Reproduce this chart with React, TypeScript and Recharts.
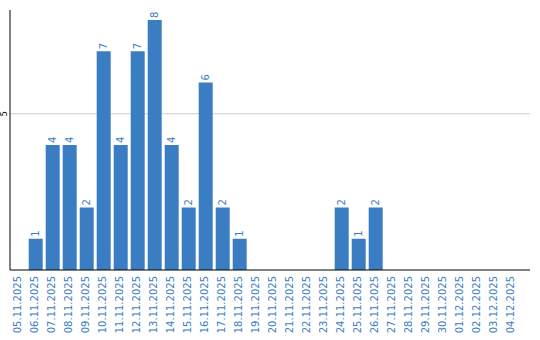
import { BarChart, Bar, XAxis, YAxis, CartesianGrid, LabelList } from 'recharts'

const dates = [
  '05.11.2025', '06.11.2025', '07.11.2025', '08.11.2025', '09.11.2025', '10.11.2025',
  '11.11.2025', '12.11.2025', '13.11.2025', '14.11.2025', '15.11.2025', '16.11.2025',
  '17.11.2025', '18.11.2025', '19.11.2025', '20.11.2025', '21.11.2025', '22.11.2025',
  '23.11.2025', '24.11.2025', '25.11.2025', '26.11.2025', '27.11.2025', '28.11.2025',
  '29.11.2025', '30.11.2025', '01.12.2025', '02.12.2025', '03.12.2025', '04.12.2025',
]
const counts = [0, 1, 4, 4, 2, 7, 4, 7, 8, 4, 2, 6, 2, 1, 0, 0, 0, 0, 0, 2, 1, 2, 0, 0, 0, 0, 0, 0, 0, 0]
const yTicks = [5]

const data = dates.map((date, i) => ({ date, count: counts[i] }))

const BLUE = '#3a7dc2'
const FONT = 'DejaVu Sans, sans-serif'

function DateTick({ x, y, payload }: any) {
  const ty = 276
  return (
    <text
      x={x - 1}
      y={ty}
      transform={`rotate(-90 ${x - 1} ${ty})`}
      textAnchor="end"
      dominantBaseline="central"
      fontSize={10}
      fontFamily={FONT}
      fill={BLUE}
    >
      {payload.value}
    </text>
  )
}

function CountTick({ y, payload }: any) {
  return (
    <text
      x={4}
      y={y}
      transform={`rotate(-90 4 ${y})`}
      textAnchor="middle"
      dominantBaseline="central"
      fontSize={8}
      fontFamily={FONT}
      fill="#000"
    >
      {payload.value}
    </text>
  )
}

function ValueLabel({ x, y, width, value }: any) {
  if (!value) return null
  const cx = x + width / 2
  const cy = y - 2
  return (
    <text
      x={cx}
      y={cy}
      transform={`rotate(-90 ${cx} ${cy})`}
      textAnchor="start"
      dominantBaseline="central"
      fontSize={10}
      fontFamily={FONT}
      fill={BLUE}
    >
      {value}
    </text>
  )
}

export default function App() {
  return (
    <div style={{ position: 'absolute', left: 0, top: 0 }}>
      <BarChart
        width={540}
        height={340}
        data={data}
        margin={{ top: 10, right: 10, left: 0, bottom: 0 }}
        barCategoryGap="10%"
      >
        <CartesianGrid horizontal vertical={false} horizontalValues={yTicks} stroke="#cccccc" />
        <XAxis
          dataKey="date"
          interval={0}
          height={70}
          padding={{ left: 0, right: 10 }}
          tick={<DateTick />}
          tickLine={false}
          axisLine={{ stroke: '#000' }}
        />
        <YAxis
          width={10}
          domain={[0, 8.32]}
          ticks={yTicks}
          tick={<CountTick />}
          tickLine={false}
          axisLine={{ stroke: '#000' }}
        />
        <Bar dataKey="count" fill={BLUE} isAnimationActive={false}>
          <LabelList dataKey="count" content={<ValueLabel />} />
        </Bar>
      </BarChart>
    </div>
  )
}
